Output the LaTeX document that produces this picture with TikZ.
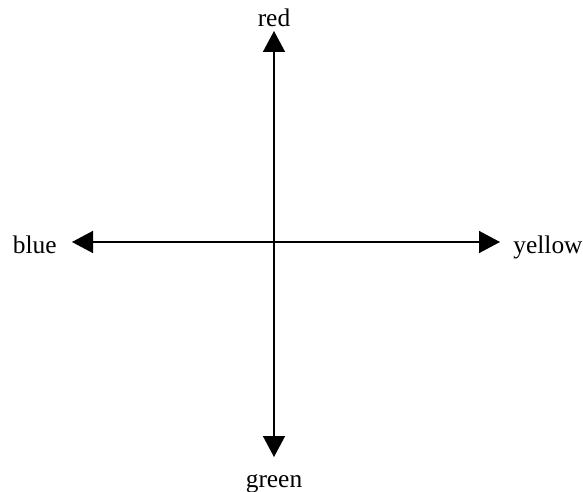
\documentclass[tikz,border=0pt]{standalone}
\usepackage{fontspec}
\setmainfont{Liberation Serif}
\usetikzlibrary{arrows.meta}
\begin{document}
\begin{tikzpicture}[x=0.5pt,y=-0.5pt,
  axis/.style={line width=0.75pt,-{Triangle[length=10.5pt,width=11pt]}},
  lbl/.style={inner sep=0pt,font=\fontsize{12.7}{15}\selectfont}]
\useasboundingbox (0,0) rectangle (583,492);
\coordinate (c) at (274,242);
\coordinate (tT) at (274,31);
\coordinate (tB) at (274,457);
\coordinate (tL) at (72,242);
\coordinate (tR) at (500,242);
\node[lbl,anchor=base] (red) at (274,27) {red};
\node[lbl,anchor=base] (green) at (274,487) {green};
\node[lbl,anchor=base east] (blue) at (57,253) {blue};
\node[lbl,anchor=base west] (yellow) at (513,253) {yellow};
\draw[axis] (c) -- (tT);
\draw[axis] (c) -- (tB);
\draw[axis] (c) -- (tL);
\draw[axis] (c) -- (tR);
\end{tikzpicture}
\end{document}
